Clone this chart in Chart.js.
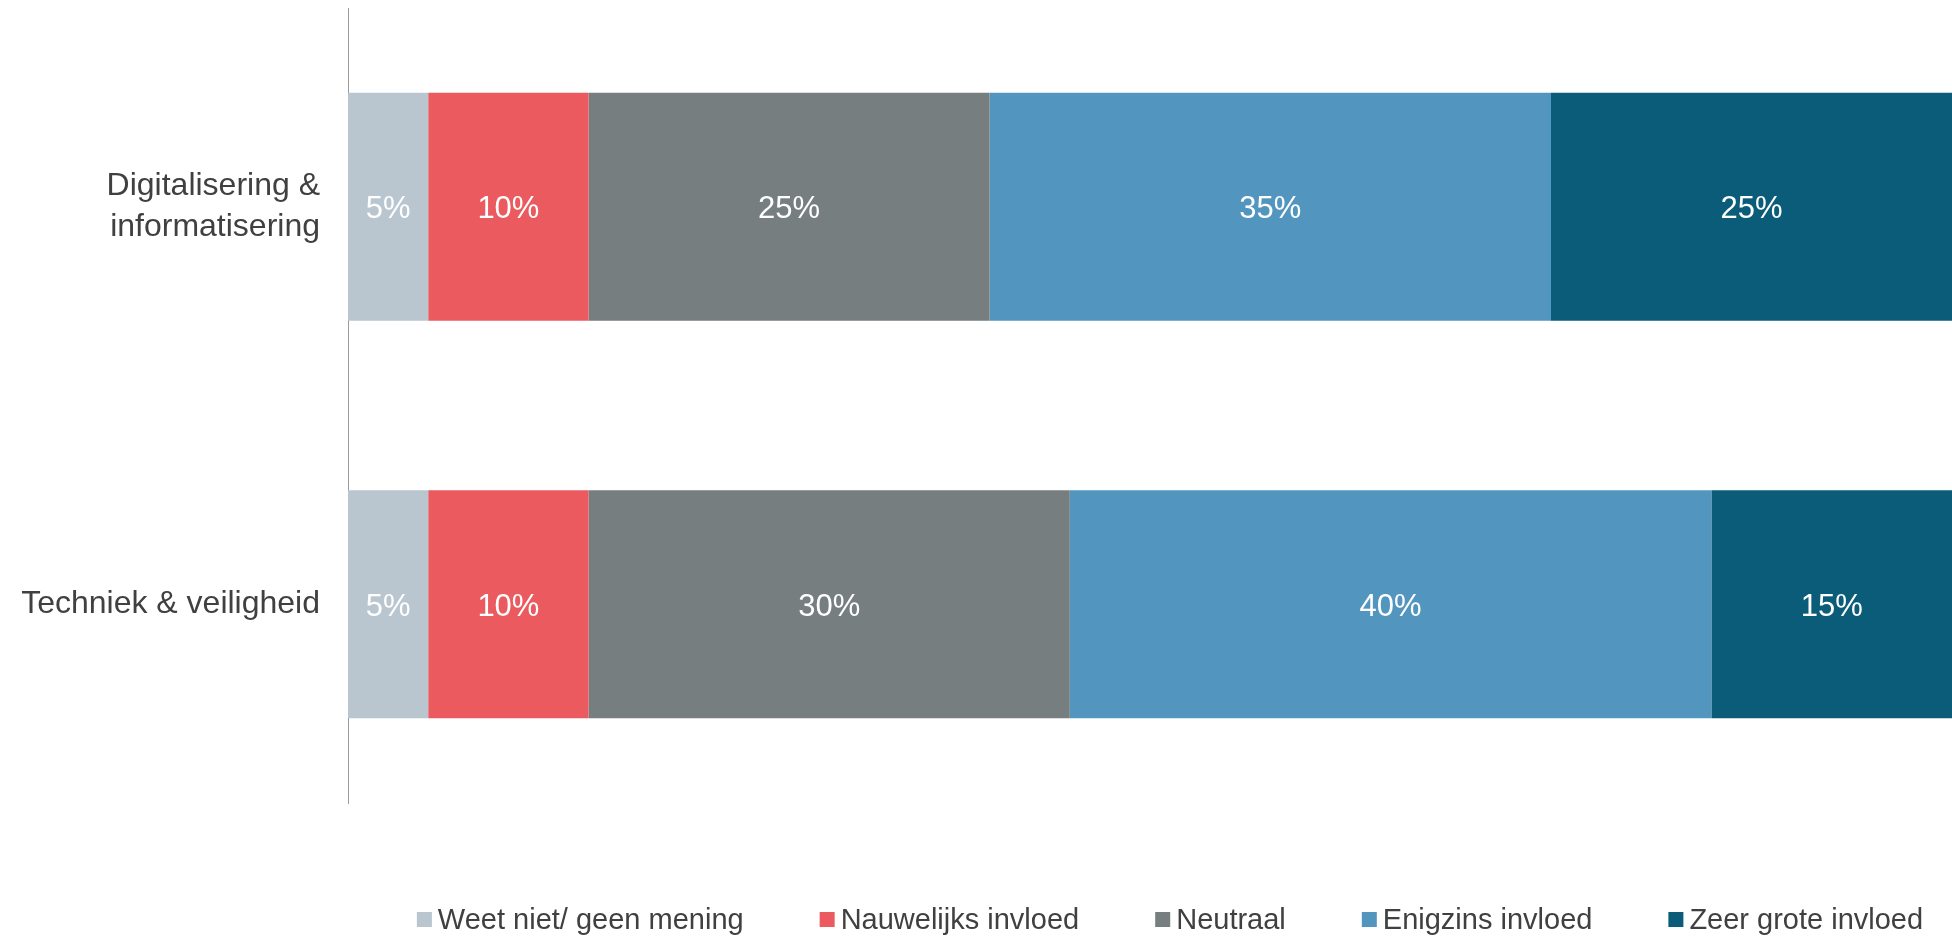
<!DOCTYPE html>
<html lang="nl">
<head>
    <meta charset="UTF-8">
    <title>Invloed</title>
    <style>
        html, body { margin: 0; padding: 0; background: #fff; }
        #wrap { width: 1952px; height: 936px; }
    </style>
</head>
<body>
    <div id="wrap"><canvas id="chart"></canvas></div>
    <script src="https://cdn.jsdelivr.net/npm/chart.js"></script>
    <script>
    // categories (y axis)
    const categories = [['Digitalisering &', 'informatisering'], 'Techniek & veiligheid'];
    // series, values in %
    const seriesNames = ['Weet niet/ geen mening', 'Nauwelijks invloed', 'Neutraal', 'Enigzins invloed', 'Zeer grote invloed'];
    const weetNiet = [5, 5];
    const nauwelijks = [10, 10];
    const neutraal = [25, 30];
    const enigzins = [35, 40];
    const zeerGroot = [25, 15];
    const seriesColors = ['#B9C6D0', '#EA5A5F', '#767E7F', '#5296C0', '#0B5C79'];

    const FONT = "'Liberation Sans', Arial, sans-serif";
    const TEXT = '#404040';

    const datasets = [weetNiet, nauwelijks, neutraal, enigzins, zeerGroot].map((vals, i) => ({
        label: seriesNames[i],
        data: vals,
        backgroundColor: seriesColors[i],
        borderWidth: 0,
        categoryPercentage: 1,
        barPercentage: 0.574
    }));

    // percentage labels in the middle of each segment
    const segmentLabels = {
        id: 'segmentLabels',
        afterDatasetsDraw(chart) {
            const ctx = chart.ctx;
            ctx.save();
            ctx.fillStyle = '#fff';
            ctx.font = '31px ' + FONT;
            ctx.textAlign = 'center';
            ctx.textBaseline = 'middle';
            chart.data.datasets.forEach((ds, i) => {
                chart.getDatasetMeta(i).data.forEach((bar, j) => {
                    const p = bar.getProps(['x', 'y', 'base'], true);
                    ctx.fillText(ds.data[j] + '%', (p.x + p.base) / 2, p.y + 3);
                });
            });
            ctx.restore();
        }
    };

    // legend along the bottom, small gap between box and text
    const bottomLegend = {
        id: 'bottomLegend',
        afterDraw(chart) {
            const ctx = chart.ctx;
            const area = chart.chartArea;
            const box = 15, gap = 6, spacing = 76;
            ctx.save();
            ctx.font = '29px ' + FONT;
            ctx.textBaseline = 'middle';
            const widths = seriesNames.map(n => ctx.measureText(n).width);
            const total = widths.reduce((a, w) => a + box + gap + w, 0) + spacing * (seriesNames.length - 1);
            let x = (area.left + area.right) / 2 + 20 - total / 2;
            const y = 919.5;
            seriesNames.forEach((n, i) => {
                ctx.fillStyle = seriesColors[i];
                ctx.fillRect(x, y - box / 2, box, box);
                ctx.fillStyle = TEXT;
                ctx.fillText(n, x + box + gap, y + 1);
                x += box + gap + widths[i] + spacing;
            });
            ctx.restore();
        }
    };

    new Chart(document.getElementById('chart'), {
        type: 'bar',
        data: { labels: categories, datasets: datasets },
        options: {
            indexAxis: 'y',
            responsive: true,
            maintainAspectRatio: false,
            animation: false,
            layout: { padding: { top: 8, bottom: 133, right: 0, left: 0 } },
            scales: {
                x: {
                    stacked: true,
                    min: 0,
                    max: 100,
                    display: false
                },
                y: {
                    stacked: true,
                    grid: { display: false, drawTicks: false },
                    border: { display: true, color: '#9A9A9A', width: 1 },
                    ticks: {
                        color: TEXT,
                        padding: 28,
                        font: { family: FONT, size: 32, lineHeight: 1.28 }
                    },
                    afterFit(scale) {
                        scale.width = 348;
                        scale.paddingTop = 0;
                        scale.paddingBottom = 0;
                    }
                }
            },
            plugins: {
                legend: { display: false },
                tooltip: { enabled: false }
            }
        },
        plugins: [segmentLabels, bottomLegend]
    });
    </script>
</body>
</html>
